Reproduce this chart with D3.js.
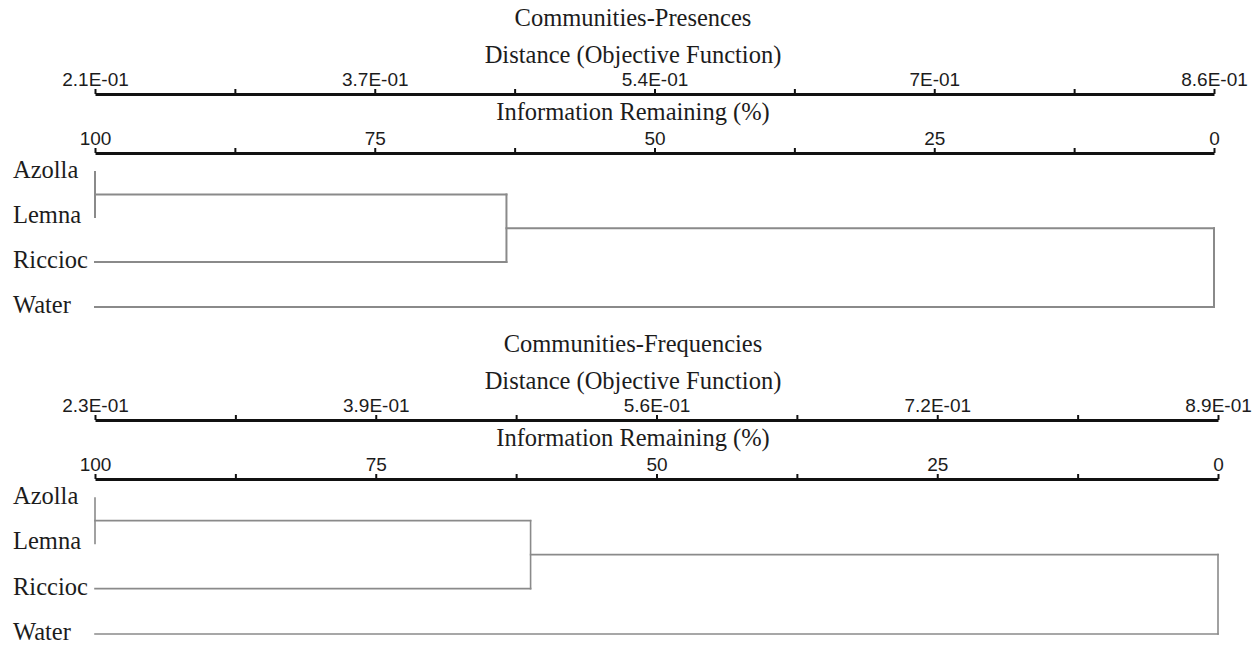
<!DOCTYPE html>
<html>
<head>
<meta charset="utf-8">
<script src="https://cdn.jsdelivr.net/npm/d3@7"></script>
<style>
  html, body { margin: 0; padding: 0; background: #fff; }
  svg { display: block; }
  .serif { font-family: "Liberation Serif", "Tinos", "DejaVu Serif", serif; }
  .sans { font-family: "Liberation Sans", Arimo, Arial, sans-serif; }
</style>
</head>
<body>
<svg id="chart" width="1258" height="646"></svg>
<script>
// Leaf order shared by both dendrograms
const leaves = ["Azolla", "Lemna", "Riccioc", "Water"];

// Panel 1: presence data
const presTitle = "Communities-Presences";
const presDistDomain = [0.21, 0.86];
const presDistLabels = ["2.1E-01", "3.7E-01", "5.4E-01", "7E-01", "8.6E-01"];
// merges: [left, right, distance]
const presMerges = [
  ["Azolla", "Lemna", 0.21],
  ["Azolla+Lemna", "Riccioc", 0.449],
  ["Azolla+Lemna+Riccioc", "Water", 0.86]
];

// Panel 2: frequency data
const freqTitle = "Communities-Frequencies";
const freqDistDomain = [0.23, 0.89];
const freqDistLabels = ["2.3E-01", "3.9E-01", "5.6E-01", "7.2E-01", "8.9E-01"];
const freqMerges = [
  ["Azolla", "Lemna", 0.23],
  ["Azolla+Lemna", "Riccioc", 0.486],
  ["Azolla+Lemna+Riccioc", "Water", 0.89]
];

const infoDomain = [100, 0];
const infoLabels = ["100", "75", "50", "25", "0"];

const svg = d3.select("#chart");
const textColor = "#1c1c1c";
const linkColor = "#8a8a8a";

function drawAxis(g, scale, labels, y) {
  const [d0, d1] = scale.domain();
  const vals = d3.range(9).map(i => d0 + (d1 - d0) * i / 8);
  const axis = d3.axisTop(scale)
    .tickValues(vals)
    .tickSize(5)
    .tickSizeOuter(0)
    .tickPadding(3)
    .tickFormat((d, i) => i % 2 ? "" : labels[i / 2]);
  const a = g.append("g").attr("transform", `translate(0,${y})`).call(axis);
  a.attr("font-family", null).attr("font-size", null).attr("class", "sans");
  a.select(".domain").attr("stroke", "#111").attr("stroke-width", 3);
  a.selectAll(".tick line").attr("stroke", "#111").attr("stroke-width", 2);
  a.selectAll(".tick text")
    .attr("fill", textColor)
    .style("font-size", "19px");
}

function drawPanel(cfg) {
  const g = svg.append("g");
  const x = d3.scaleLinear().domain(cfg.distDomain).range([95, cfg.xEnd]);
  const xi = d3.scaleLinear().domain(infoDomain).range([95, cfg.xEnd]);
  const y = d3.scalePoint().domain(leaves).range(cfg.leafRange);

  // Headings
  const heads = [
    [cfg.title, cfg.top + 26],
    ["Distance (Objective Function)", cfg.top + 63],
    ["Information Remaining (%)", cfg.top + 120]
  ];
  g.selectAll("text.head").data(heads).join("text")
    .attr("class", "head serif")
    .attr("x", 633)
    .attr("y", d => d[1])
    .attr("text-anchor", "middle")
    .attr("fill", textColor)
    .style("font-size", "24.5px")
    .text(d => d[0]);

  drawAxis(g, x, cfg.distLabels, cfg.top + 94);
  drawAxis(g, xi, infoLabels, cfg.top + 153);

  // Leaf labels
  g.selectAll("text.leaf").data(leaves).join("text")
    .attr("class", "leaf serif")
    .attr("x", 13)
    .attr("y", d => y(d) + 6)
    .attr("fill", textColor)
    .style("font-size", "24.5px")
    .text(d => d);

  // Node positions: leaves sit at the smallest distance
  const nodes = {};
  leaves.forEach(l => nodes[l] = { x: x(cfg.distDomain[0]), y: y(l) });
  const segs = [];
  cfg.merges.forEach(([a, b, d]) => {
    const na = nodes[a], nb = nodes[b];
    const mx = x(d);
    segs.push([na.x, na.y, mx, na.y]);
    segs.push([nb.x, nb.y, mx, nb.y]);
    segs.push([mx, na.y, mx, nb.y]);
    nodes[a + "+" + b] = { x: mx, y: (na.y + nb.y) / 2 };
  });

  g.selectAll("line.link").data(segs.filter(s => s[0] !== s[2] || s[1] !== s[3]))
    .join("line")
    .attr("class", "link")
    .attr("x1", s => s[0]).attr("y1", s => s[1])
    .attr("x2", s => s[2]).attr("y2", s => s[3])
    .attr("stroke", linkColor)
    .attr("stroke-width", cfg.linkWidth)
    .attr("stroke-linecap", "square");
}

drawPanel({
  title: presTitle, distDomain: presDistDomain, distLabels: presDistLabels,
  merges: presMerges, top: 0, xEnd: 1214, leafRange: [172, 307], linkWidth: 2
});
drawPanel({
  title: freqTitle, distDomain: freqDistDomain, distLabels: freqDistLabels,
  merges: freqMerges, top: 326, xEnd: 1218, leafRange: [498, 634], linkWidth: 1.6
});
</script>
</body>
</html>
